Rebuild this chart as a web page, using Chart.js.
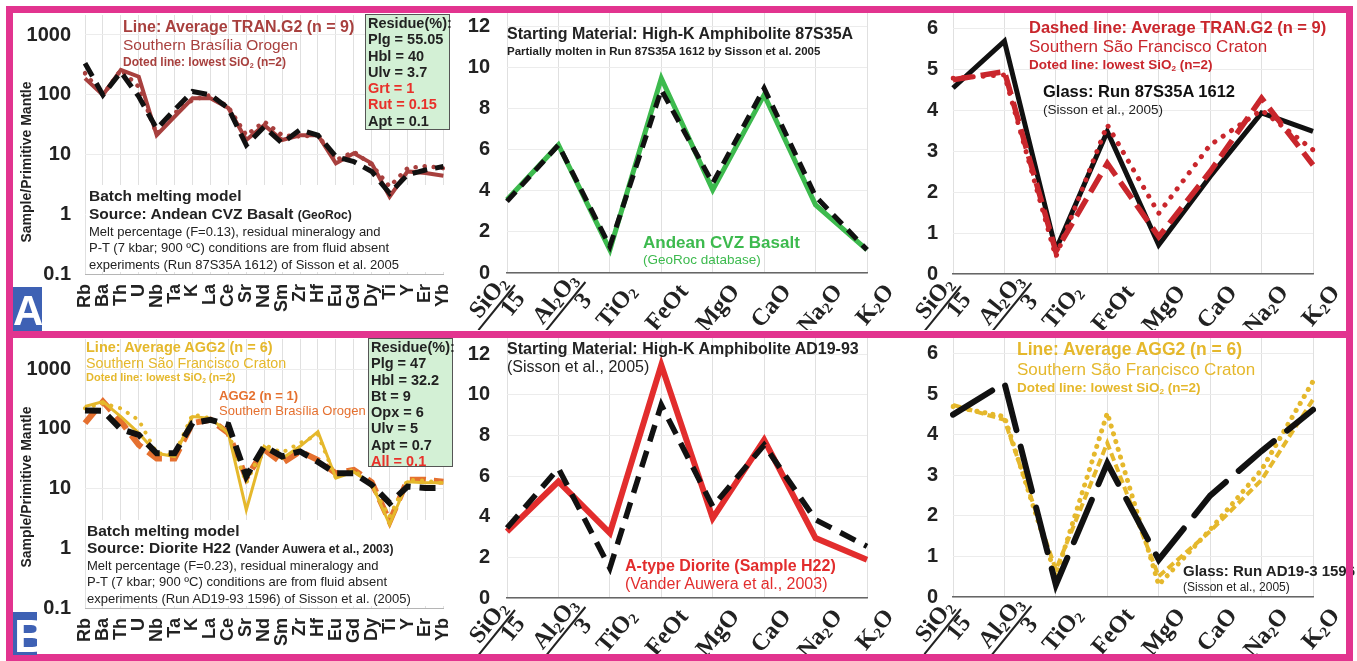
<!DOCTYPE html>
<html>
<head>
<meta charset="utf-8">
<script src="https://cdn.jsdelivr.net/npm/chart.js@4.4.0/dist/chart.umd.min.js"></script>
<style>
  body { margin: 0; width: 1357px; height: 661px; overflow: hidden; position: relative; background: #fff;
         font-family: "Liberation Sans", Arial, sans-serif; color: #222; }
  canvas { position: absolute; z-index: 1; }
  .t { position: absolute; white-space: nowrap; line-height: 1; z-index: 3; }
  .b { font-weight: bold; }
  .s { font-size: 60%; vertical-align: -0.25em; }
  .res { position: absolute; z-index: 3; box-sizing: border-box; background: #d3f0d5; border: 1.5px solid #555;
         font-weight: bold; font-size: 14.5px; line-height: 16.3px; padding: 0 0 0 2px; white-space: nowrap; }
  .frame { position: absolute; left: 6px; top: 6px; width: 1333px; height: 641px; border: 7px solid #e2348f; z-index: 5; }
  .sep { position: absolute; left: 6px; top: 331px; width: 1347px; height: 7px; background: #e2348f; z-index: 5; }
  .badge { position: absolute; background: #3e61b4; color: #fff; font-weight: bold; overflow: hidden; z-index: 6; }
  .ytitle { position: absolute; font-weight: bold; font-size: 14px; white-space: nowrap; z-index: 3;
            transform: translate(-50%, -50%) rotate(-90deg); }
</style>
</head>
<body>
<canvas id="tl"></canvas>
<canvas id="tm"></canvas>
<canvas id="tr"></canvas>
<canvas id="bl"></canvas>
<canvas id="bm"></canvas>
<canvas id="br"></canvas>

<!-- top left -->
<div class="ytitle" style="left:26px;top:162px">Sample/Primitive Mantle</div>
<div class="t b" style="left:123px;top:19px;font-size:16px;color:#a8403e">Line: Average TRAN.G2 (n = 9)</div>
<div class="t" style="left:123px;top:37px;font-size:15.5px;color:#a8403e">Southern Brasília Orogen</div>
<div class="t b" style="left:123px;top:56px;font-size:12px;color:#a8403e">Doted line: lowest SiO<span class="s">2</span> (n=2)</div>
<div class="res" style="left:365px;top:14px;width:85px;height:116px">Residue(%):<br>Plg = 55.05<br>Hbl = 40<br>Ulv = 3.7<br><span style="color:#e8302a">Grt = 1</span><br><span style="color:#e8302a">Rut = 0.15</span><br>Apt = 0.1</div>
<div class="t b" style="left:89px;top:188px;font-size:15.5px">Batch melting model</div>
<div class="t b" style="left:89px;top:206px;font-size:15.5px">Source: Andean CVZ Basalt <span style="font-size:12px">(GeoRoc)</span></div>
<div class="t" style="left:89px;top:224.5px;font-size:13px">Melt percentage (F=0.13), residual mineralogy and</div>
<div class="t" style="left:89px;top:241px;font-size:13px">P-T (7 kbar; 900 ºC) conditions are from fluid absent</div>
<div class="t" style="left:89px;top:257.5px;font-size:13px">experiments (Run 87S35A 1612) of Sisson et al. 2005</div>

<!-- top middle -->
<div class="t b" style="left:507px;top:26px;font-size:16px">Starting Material: High-K Amphibolite 87S35A</div>
<div class="t b" style="left:507px;top:46px;font-size:11.5px">Partially molten in Run 87S35A 1612 by Sisson et al. 2005</div>
<div class="t b" style="left:643px;top:233.5px;font-size:17px;color:#3dba4e">Andean CVZ Basalt</div>
<div class="t" style="left:643px;top:253px;font-size:13.5px;color:#3dba4e">(GeoRoc database)</div>

<!-- top right -->
<div class="t b" style="left:1029px;top:19px;font-size:16.5px;color:#c9262c">Dashed line: Average TRAN.G2 (n = 9)</div>
<div class="t" style="left:1029px;top:37.5px;font-size:17px;color:#c9262c">Southern São Francisco Craton</div>
<div class="t b" style="left:1029px;top:58px;font-size:13.5px;color:#c9262c">Doted line: lowest SiO<span class="s">2</span> (n=2)</div>
<div class="t b" style="left:1043px;top:83px;font-size:16.5px;color:#111">Glass: Run 87S35A 1612</div>
<div class="t" style="left:1043px;top:103px;font-size:13.5px">(Sisson et al., 2005)</div>

<!-- bottom left -->
<div class="ytitle" style="left:26px;top:487px">Sample/Primitive Mantle</div>
<div class="t b" style="left:86px;top:339.5px;font-size:14.5px;color:#e5b82c">Line: Average AGG2 (n = 6)</div>
<div class="t" style="left:86px;top:355.7px;font-size:14.3px;color:#e5b82c">Southern São Francisco Craton</div>
<div class="t b" style="left:86px;top:372px;font-size:11px;color:#e5b82c">Doted line: lowest SiO<span class="s">2</span> (n=2)</div>
<div class="t b" style="left:219px;top:389px;font-size:13px;color:#e5702f">AGG2 (n = 1)</div>
<div class="t" style="left:219px;top:404px;font-size:13px;color:#e5702f">Southern Brasília Orogen</div>
<div class="res" style="left:368px;top:338px;width:85px;height:129px">Residue(%):<br>Plg = 47<br>Hbl = 32.2<br>Bt = 9<br>Opx = 6<br>Ulv = 5<br>Apt = 0.7<br><span style="color:#e8302a">All = 0.1</span></div>
<div class="t b" style="left:87px;top:523px;font-size:15.5px">Batch melting model</div>
<div class="t b" style="left:87px;top:540px;font-size:15.5px">Source: Diorite H22 <span style="font-size:12px">(Vander Auwera et al., 2003)</span></div>
<div class="t" style="left:87px;top:559px;font-size:13px">Melt percentage (F=0.23), residual mineralogy and</div>
<div class="t" style="left:87px;top:575px;font-size:13px">P-T (7 kbar; 900 ºC) conditions are from fluid absent</div>
<div class="t" style="left:87px;top:592px;font-size:13px">experiments (Run AD19-93 1596) of Sisson et al. (2005)</div>

<!-- bottom middle -->
<div class="t b" style="left:507px;top:341px;font-size:16px">Starting Material: High-K Amphibolite AD19-93</div>
<div class="t" style="left:507px;top:358.7px;font-size:16px">(Sisson et al., 2005)</div>
<div class="t b" style="left:625px;top:558px;font-size:16px;color:#e22d2d">A-type Diorite (Sample H22)</div>
<div class="t" style="left:625px;top:576px;font-size:16px;color:#e22d2d">(Vander Auwera et al., 2003)</div>

<!-- bottom right -->
<div class="t b" style="left:1017px;top:341px;font-size:17.5px;color:#e5b82c">Line: Average AGG2 (n = 6)</div>
<div class="t" style="left:1017px;top:361px;font-size:17px;color:#e5b82c">Southern São Francisco Craton</div>
<div class="t b" style="left:1017px;top:380.5px;font-size:13.5px;color:#e5b82c">Doted line: lowest SiO<span class="s">2</span> (n=2)</div>
<div class="t b" style="left:1183px;top:563px;font-size:15px">Glass: Run AD19-3 1596</div>
<div class="t" style="left:1183px;top:581px;font-size:12px">(Sisson et al., 2005)</div>

<div class="frame"></div>
<div class="sep"></div>
<div class="badge" style="left:13px;top:287px;width:29px;height:44px;font-size:42px;line-height:48px;text-align:center">A</div>
<div class="badge" style="left:13px;top:612px;width:24px;height:43px;font-size:46px;line-height:48px;padding-left:1px;box-sizing:border-box">B</div>

<script>
/* ---------- categories ---------- */
const elements = ["Rb", "Ba", "Th", "U", "Nb", "Ta", "K", "La", "Ce", "Sr", "Nd",
  "Sm", "Zr", "Hf", "Eu", "Gd", "Dy", "Ti", "Y", "Er", "Yb"];
const oxides = ["SiO2/15", "Al2O3/3", "TiO2", "FeOt", "MgO", "CaO", "Na2O", "K2O"];
const logTicks = [0.1, 1, 10, 100, 1000];

/* ---------- A: spider diagram (sample / primitive mantle) ---------- */
const aModel   = [336, 99, 240, 93, 27, 56, 113, 99, 59, 14.4, 29, 15.5, 26, 21, 9.2, 7.6, 5.2, 2.24, 4.6, 5.5, 6.3];
const aTranAvg = [188, 99, 260, 200, 21, 43, 87, 87, 60, 17.5, 31, 17.5, 21, 21, 7.1, 10.5, 7.1, 1.97, 5.2, 4.9, 4.4];
const aTranLow = [229, 99, 260, 136, 22, 49, 82, 99, 62, 21, 35.5, 21, 20, 21, 8, 11.1, 6.7, 2.9, 5.9, 6.4, 5.9];

/* ---------- B: spider diagram ---------- */
const bModel   = [203, 200, 99, 79, 39, 39, 125, 142, 117, 16, 51, 34.5, 42, 28, 18, 18, 11.6, 5.7, 10.8, 10.2, 10.2];
const bAggAvg  = [237, 287, 161, 85, 39, 34.5, 161, 150, 85, 4.4, 51, 32, 51, 90, 15, 19, 12, 2.5, 13, 12.5, 12.5];
const bAggLow  = [222, 270, 220, 140, 39, 37, 175, 150, 85, 12.4, 54, 40, 58, 80, 15, 21, 10.9, 3.4, 14, 13.6, 12.3];
const bAggSbo  = [125, 287, 133, 54, 32, 32, 125, 142, 85, 15, 45, 26.7, 42, 30, 18, 20.6, 12.8, 2.8, 14, 14, 13];

/* ---------- starting materials (oxides, wt%) ---------- */
const cvzBasalt = [3.57, 6.24, 1.13, 9.49, 4.05, 8.68, 3.32, 1.13];
const amph87    = [3.49, 6.24, 1.30, 8.92, 4.38, 9.00, 3.73, 1.13];
const dioriteH22 = [3.27, 5.73, 3.19, 11.46, 3.93, 7.78, 2.95, 1.88];
const amphAD    = [3.44, 6.38, 1.47, 9.50, 4.50, 7.53, 3.85, 2.54];

/* ---------- glasses vs granitoids (oxides) ---------- */
const glass87   = [4.54, 5.68, 0.59, 3.48, 0.71, 2.38, 3.93, 3.48];
const tranAvgOx = [4.74, 4.94, 0.55, 2.70, 0.91, 2.50, 4.29, 2.66];
const tranLowOx = [4.78, 4.86, 0.42, 3.64, 1.48, 3.15, 4.00, 3.03];
const glassAD   = [4.50, 5.28, 0.30, 3.30, 0.92, 2.50, 3.60, 4.62];
const aggAvgOx  = [4.74, 4.37, 0.67, 3.80, 0.51, 1.62, 2.89, 4.87];
const aggLowOx  = [4.70, 4.45, 0.51, 4.54, 0.30, 1.66, 3.14, 5.32];

/* ---------- colours ---------- */
const BLACK = "#111", BROWN = "#a8403e", RED = "#c9262c", GREEN = "#3dba4e",
      RED2 = "#e22d2d", YELLOW = "#e5b82c", ORANGE = "#e5702f";

const ds = (data, color, width, dash, cap) => ({
  data, borderColor: color, borderWidth: width, borderDash: dash || [],
  borderCapStyle: cap || "butt", fill: false, pointRadius: 0, tension: 0,
});
const dots = (data, color, width, gap) => ds(data, color, width, [0.1, gap], "round");

/* white box behind the text block, over the grid but under the lines */
const blank = {
  id: "blank",
  beforeDatasetsDraw(chart, args, opts) {
    if (!opts.rect) return;
    const r = opts.rect, ctx = chart.ctx;
    ctx.save();
    ctx.fillStyle = "#fff";
    ctx.fillRect(r[0], r[1], r[2] - r[0], r[3] - r[1]);
    ctx.restore();
  },
};

/* oxide tick labels: subscripts and fractions, rotated */
function richText(ctx, txt, size, xEnd, y) {
  const segs = txt.match(/[A-Za-z]+|\d+/g).map(p => ({ t: p, sub: /^\d+$/.test(p) }));
  const font = s => `bold ${s.sub ? size * 0.62 : size}px "Liberation Serif", serif`;
  let w = 0;
  segs.forEach(s => { ctx.font = font(s); s.w = ctx.measureText(s.t).width; w += s.w; });
  let cx = xEnd - w;
  segs.forEach(s => { ctx.font = font(s); ctx.fillText(s.t, cx, y + (s.sub ? size * 0.22 : 0)); cx += s.w; });
  return w;
}
// hand placement of the two fraction labels (offset from tick / axis)
const fracShift = [[8, 12], [27, 9]];

const oxideTicks = {
  id: "oxideTicks",
  afterDraw(chart) {
    if (!chart.options.plugins.oxideTicks.on) return;
    const xs = chart.scales.x, ctx = chart.ctx, base = chart.chartArea.bottom, size = 24;
    ctx.save();
    ctx.fillStyle = "#222";
    ctx.strokeStyle = "#222";
    ctx.textBaseline = "middle";
    ctx.textAlign = "left";
    chart.data.labels.forEach((lab, i) => {
      const [num, den] = lab.split("/");
      const x = xs.getPixelForTick(i);
      ctx.save();
      if (den) {
        const sh = fracShift[i] || [16, 9];
        ctx.translate(x + sh[0], base + sh[1]);
        ctx.rotate(-51 * Math.PI / 180);
        const w = richText(ctx, num, size, -3, -12);
        ctx.lineWidth = 2;
        ctx.beginPath();
        ctx.moveTo(-w - 12, 0);
        ctx.lineTo(0, 0);
        ctx.stroke();
        ctx.font = `bold ${size}px "Liberation Serif", serif`;
        ctx.textAlign = "center";
        ctx.fillText(den, -16, 11);
      } else {
        ctx.translate(x + 23, base + 15);
        ctx.rotate(-50 * Math.PI / 180);
        richText(ctx, num, size, 0, 0);
      }
      ctx.restore();
    });
    ctx.restore();
  },
};

/* ---------- one panel ---------- */
function panel(id, box, labels, datasets) {
  const PAD = 34, PADR = 30;
  const c = document.getElementById(id);
  c.width = box.yW + box.w + PADR;
  c.height = PAD + box.h + box.xH;
  c.style.left = (box.x - box.yW) + "px";
  c.style.top = (box.y - PAD) + "px";
  const isLog = box.log;
  const yScale = isLog ? {
    type: "logarithmic", min: 0.1, max: box.yMax,
    afterBuildTicks: s => { s.ticks = logTicks.map(v => ({ value: v })); },
    ticks: { callback: v => String(v), font: { size: 20, weight: "bold" }, color: "#222", padding: box.yPad },
  } : {
    type: "linear", min: 0, max: box.yMax,
    afterBuildTicks: s => {
      const t = [];
      for (let v = 0; v <= box.yMax + 1e-9; v += box.step) t.push({ value: v });
      s.ticks = t;
    },
    ticks: { font: { size: 20, weight: "bold" }, color: "#222", padding: box.yPad },
  };
  yScale.grid = { color: "#ececec", drawTicks: false };
  yScale.border = { display: false };
  yScale.afterFit = s => { s.width = box.yW; };
  return new Chart(c, {
    type: "line",
    plugins: [blank, oxideTicks],
    data: { labels, datasets },
    options: {
      responsive: false,
      animation: false,
      layout: { padding: { top: PAD, right: PADR, left: 0, bottom: 0 } },
      plugins: {
        legend: { display: false },
        tooltip: { enabled: false },
        blank: { rect: box.blank ? box.blank.map((v, i) => i % 2 ? v + PAD : v) : null },
        oxideTicks: { on: !isLog },
      },
      scales: {
        x: {
          grid: { color: "#e0e0e0", drawTicks: false },
          border: { color: isLog ? "#b5b5b5" : "#666", width: isLog ? 1 : 1.5 },
          ticks: isLog
            ? { autoSkip: false, minRotation: 90, maxRotation: 90, font: { size: 18, weight: "bold" }, color: "#222", padding: 10 }
            : { display: false },
          afterFit: s => { s.height = box.xH; },
        },
        y: yScale,
      },
    },
  });
}

/* ---------- A row ---------- */
/* blank rect given relative to plot top */
panel("tl", { x: 85, y: 15, w: 360, h: 259, yW: 71, xH: 51, log: true, yMax: 2160, yPad: 14, blank: [72, 170, 431, 257] },
  elements, [
    ds(aModel, BLACK, 5, [15, 8]),
    ds(aTranAvg, BROWN, 4),
    dots(aTranLow, BROWN, 4.5, 9),
  ]);

panel("tm", { x: 507, y: 13, w: 360, h: 260.3, yW: 47, xH: 57, yMax: 12.67, step: 2, yPad: 17 },
  oxides, [
    ds(amph87, BLACK, 5, [13, 8]),
    ds(cvzBasalt, GREEN, 5),
  ]);

panel("tr", { x: 953, y: 13, w: 360, h: 261, yW: 38, xH: 56, yMax: 6.37, step: 1, yPad: 15 },
  oxides, [
    ds(tranAvgOx, RED, 5.5, [20, 8]),
    dots(tranLowOx, RED, 5, 10),
    ds(glass87, BLACK, 5),
  ]);

/* ---------- B row ---------- */
panel("bl", { x: 85, y: 339, w: 360, h: 269.3, yW: 71, xH: 48, log: true, yMax: 3200, yPad: 14, blank: [72, 181, 431, 267] },
  elements, [
    ds(bModel, BLACK, 6, [16, 9]),
    ds(bAggAvg, YELLOW, 3),
    dots(bAggLow, YELLOW, 4, 9),
    ds(bAggSbo, ORANGE, 6, [16, 8]),
  ]);

panel("bm", { x: 507, y: 338, w: 360, h: 260.3, yW: 47, xH: 60, yMax: 12.79, step: 2, yPad: 17 },
  oxides, [
    ds(amphAD, BLACK, 5.5, [17, 10]),
    ds(dioriteH22, RED2, 6),
  ]);

panel("br", { x: 953, y: 338, w: 360, h: 259.3, yW: 38, xH: 61, yMax: 6.39, step: 1, yPad: 15 },
  oxides, [
    ds(glassAD, BLACK, 6, [46, 17], "round"),
    ds(aggAvgOx, YELLOW, 4, [8, 4]),
    dots(aggLowOx, YELLOW, 5, 8),
  ]);
</script>
</body>
</html>
